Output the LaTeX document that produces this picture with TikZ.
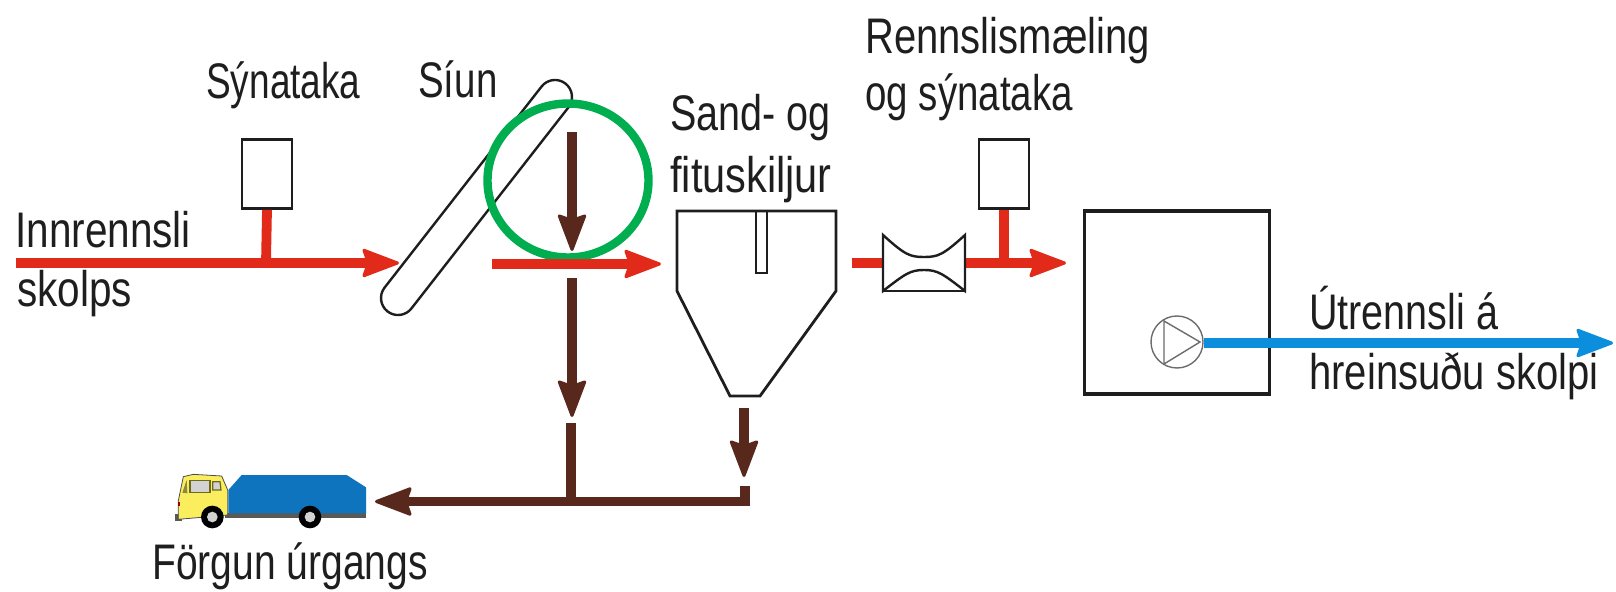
\documentclass[tikz,border=0pt]{standalone}
\usepackage{fontspec}
\setmainfont{Liberation Sans}
\usetikzlibrary{arrows.meta}
\definecolor{flowred}{HTML}{E22A1A}
\definecolor{sludge}{HTML}{57281B}
\definecolor{outblue}{HTML}{0B8FDD}
\definecolor{ringgreen}{HTML}{00AE4F}
\definecolor{inkk}{HTML}{1E1E1E}
\definecolor{truckblue}{HTML}{0F74BE}
\definecolor{cabyellow}{HTML}{FAEE5E}
\tikzset{
  px/.style={x=0.5pt,y=-0.5pt},
  fattip/.tip={Stealth[length=20pt,width=15pt,inset=2.5pt,line width=1.5pt,round]},
  redflow/.style={draw=flowred,line width=4.9pt,-fattip},
  redstem/.style={draw=flowred,line width=4.9pt},
  brownflow/.style={draw=sludge,line width=4.9pt,-fattip},
  brownstem/.style={draw=sludge,line width=4.9pt},
  blueflow/.style={draw=outblue,line width=4.9pt,-fattip},
  outline/.style={draw=inkk,line width=1.4pt},
  instr/.style={draw=inkk,line width=1.4pt,minimum width=25pt,minimum height=34.5pt,inner sep=0pt},
  lab/.style={anchor=base west,inner sep=0pt,font=\fontsize{25}{25}\selectfont,text=inkk},
}
\begin{document}
\begin{tikzpicture}[px]
\useasboundingbox (0,0) rectangle (1616,592);
% coordinates
\coordinate (inA) at (16,263);
\coordinate (inJ) at (266,263);
\coordinate (inB) at (399,263);
\coordinate (r2A) at (492,264);
\coordinate (r2B) at (661,264);
\coordinate (b1A) at (572,132);
\coordinate (b1B) at (572,251);
\coordinate (b2A) at (572,278);
\coordinate (b2B) at (572,417);
\coordinate (b3A) at (571,423);
\coordinate (b3B) at (571,501);
\coordinate (b4A) at (744,408);
\coordinate (b4B) at (744,477);
\coordinate (hR) at (750,501.5);
\coordinate (hRa) at (745,506);
\coordinate (hRt) at (745,486);
\coordinate (hL) at (375,501.5);
\coordinate (r3A) at (852,263);
\coordinate (r3J) at (1004,263);
\coordinate (r3B) at (1066,263);
\coordinate (blA) at (1204,343);
\coordinate (blB) at (1613,343);
% screen
\draw[outline,line width=1.2pt]
  (541.6,86.5) arc[start angle=218,end angle=398,radius=17] -- (411.4,308.5) arc[start angle=38,end angle=218,radius=17] -- cycle;
% green ring
\draw[ringgreen,line width=4.2pt] (568,180.5) ellipse[x radius=80.5,y radius=77];
% boxes
\node[instr] (sampleA) at (267,174) {};
\node[instr] (sampleB) at (1004,174) {};
% separator
\draw[outline] (677,211) -- (836,211) -- (836,291) -- (760,396) -- (730,396) -- (677,291) -- cycle;
\draw[outline] (756,211) rectangle (767,273);
% flows
\draw[redstem] (sampleA.south) -- (inJ);
\draw[redflow] (inA) -- (inB);
\draw[brownflow] (b1A) -- (b1B);
\draw[brownflow] (b2A) -- (b2B);
\draw[redflow] (r2A) -- (r2B);
\draw[brownflow] (b4A) -- (b4B);
\draw[brownstem] (b3A) -- (b3B);
\draw[brownflow] (hR) -- (hL);
\draw[brownstem] (hRt) -- (hRa);
% meter
\draw[redstem] (r3A) -- (884,263);
\draw[redflow] (964,263) -- (r3B);
\draw[redstem] (sampleB.south) -- (r3J);
\draw[outline,line width=1.2pt,fill=white] (883,235) .. controls (905,255) and (910,257) .. (924,257) .. controls (938,257) and (943,255) .. (965,235) -- (965,291) .. controls (943,274) and (938,270) .. (924,270) .. controls (910,270) and (905,274) .. (883,291) -- cycle;
\draw[outline,line width=.8pt] (883,291) -- (965,291);
% tank and pump
\node[draw=inkk,line width=1.6pt,minimum width=92.5pt,minimum height=91.5pt,inner sep=0pt] (tank) at (1177,302.5) {};
\draw[blueflow] (blA) -- (blB);
\node[circle,draw=gray!85!black,line width=.7pt,minimum size=26pt,inner sep=0pt,fill=white] (pump) at (1177,342) {};
\draw[gray!85!black,line width=.7pt] (1164,321) -- (1200,342) -- (1164,364) -- cycle;
% truck
\begin{scope}[shift={(140,430)},x=0.16667pt,y=-0.16667pt]
\fill[gray!70!black] (105,253) rectangle (125,272);
\fill[gray!70!black] (255,250) rectangle (678,264);
\draw[draw=black!70,line width=.4pt,fill=cabyellow] (115,212) -- (130,140) -- (160,133) -- (245,138) -- (263,180) -- (263,255) -- (115,268) -- cycle;
\draw[olive!70!black,line width=.6pt,fill=gray!35] (150,152) -- (210,152) -- (210,188) -- (150,188) -- cycle;
\draw[olive!70!black,line width=.6pt,fill=gray!35] (218,155) -- (240,155) -- (243,180) -- (218,180) -- cycle;
\fill[olive!60!gray] (127,188) -- (140,150) -- (142,190) -- cycle;
\fill[red!60!black] (113,215) rectangle (119,228);
\fill[truckblue] (265,180) -- (305,135) -- (620,135) -- (678,172) -- (678,250) -- (265,250) -- cycle;
\fill[black] (217,261) circle[radius=34];
\fill[gray!35] (217,261) circle[radius=16];
\fill[black] (510,261) circle[radius=34];
\fill[gray!35] (510,261) circle[radius=16];
\end{scope}
% labels
\node[lab,xscale=.81] (t1a) at (15,248) {Innrennsli};
\node[lab,xscale=.81] (t1b) at (17,307) {skolps};
\node[lab,xscale=.74] (t2) at (206,99) {Sýnataka};
\node[lab,xscale=.77] (t3) at (418,98) {Síun};
\node[lab,xscale=.79] (t4a) at (670,131) {Sand- og};
\node[lab,xscale=.83] (t4b) at (670,193) {fituskiljur};
\node[lab,xscale=.80] (t5a) at (865,54) {Rennslismæling};
\node[lab,xscale=.77] (t5b) at (865,111) {og sýnataka};
\node[lab,xscale=.79] (t6a) at (1309,330) {Útrennsli á};
\node[lab,xscale=.80] (t6b) at (1309,390) {hreinsuðu skolpi};
\node[lab,xscale=.78] (t7) at (152,580) {Förgun úrgangs};
\end{tikzpicture}
\end{document}
